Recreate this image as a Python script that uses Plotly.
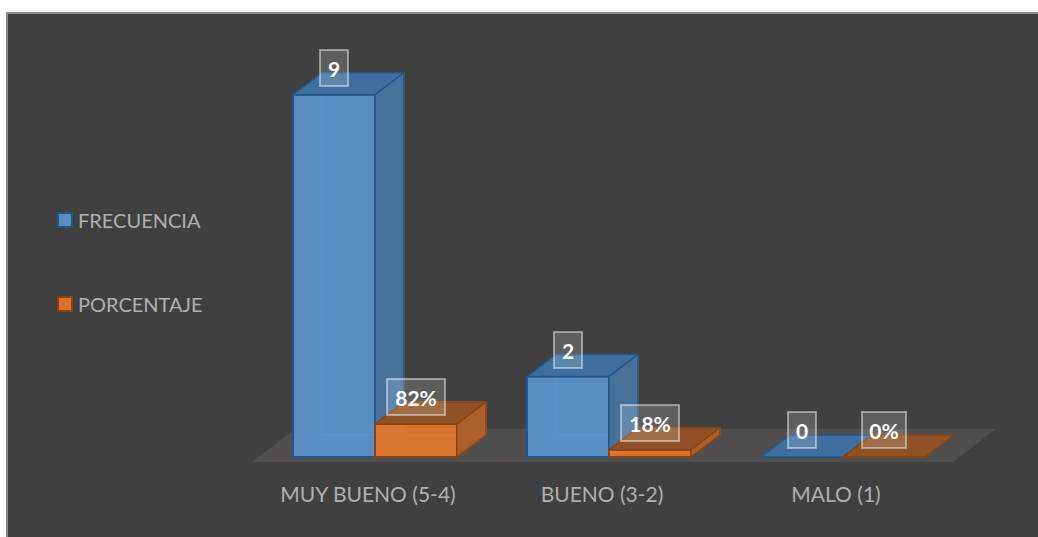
import plotly.graph_objects as go

categories = ["MUY BUENO (5-4)", "BUENO (3-2)", "MALO (1)"]
series_names = ["FRECUENCIA", "PORCENTAJE"]
frecuencia = [9, 2, 0]
porcentaje = [0.82, 0.18, 0]
frecuencia_labels = ["9", "2", "0"]
porcentaje_labels = ["82%", "18%", "0%"]

# the chart sits on a dark panel, pixel sizes of the page
W, H = 1038, 537
PANEL = (7, 13, 1045, 545)
PLOT = (200, 40, 1038, 475)   # left, top, right, bottom of the axes area
ZERO_X, STEP_X = 375, 234     # pixel of first category, distance between categories
ZERO_Y, UNIT_Y = 457, 40.25   # pixel of value 0, pixels for 1 unit

BAR = 82 / STEP_X
DX = 29 / STEP_X              # depth of the bars in axis units
DY = 22 / UNIT_Y

BLUE = dict(front="rgba(91,146,202,0.95)", side="#47729c", top="#3f6f9f", edge="#255786", inner="#5b9bd5")
ORANGE = dict(front="rgba(222,118,46,0.95)", side="#ad6029", top="#8f5226", edge="#8a4312", inner="#ed7d31")

x_range = [(PLOT[0] - ZERO_X) / STEP_X, (PLOT[2] - ZERO_X) / STEP_X]
y_range = [(ZERO_Y - PLOT[3]) / UNIT_Y, (ZERO_Y - PLOT[1]) / UNIT_Y]


def paper_x(px):
    return (px - PLOT[0]) / (PLOT[2] - PLOT[0])


def paper_y(px):
    return (PLOT[3] - px) / (PLOT[3] - PLOT[1])


def polygon(points, fill, line, width=1.5):
    return go.Scatter(x=[p[0] for p in points] + [points[0][0]],
                      y=[p[1] for p in points] + [points[0][1]],
                      mode="lines", fill="toself", fillcolor=fill,
                      line=dict(color=line, width=width),
                      showlegend=False, hoverinfo="skip")


def inner_faces(x0, v, colors):
    x1 = x0 + BAR
    return [polygon([(x0, 0), (x1, 0), (x1 + DX, DY), (x0 + DX, DY)], "rgba(0,0,0,0)", colors["inner"], 1),
            polygon([(x0 + DX, DY), (x1 + DX, DY), (x1 + DX, v + DY), (x0 + DX, v + DY)], "rgba(0,0,0,0)", colors["inner"], 1)]


def outer_faces(x0, v, colors):
    x1 = x0 + BAR
    faces = [polygon([(x0, v), (x1, v), (x1 + DX, v + DY), (x0 + DX, v + DY)], colors["top"], colors["edge"])]
    if v > 0:
        faces.append(polygon([(x1, 0), (x1 + DX, DY), (x1 + DX, v + DY), (x1, v)], colors["side"], colors["edge"]))
    return faces


fig = go.Figure()

positions = list(range(len(categories)))

# back layer: what shows through the blue front faces
for i, v in zip(positions, frecuencia):
    if v > 0:
        for face in inner_faces(i - BAR, v, BLUE):
            fig.add_trace(face)

# blue bars
fig.add_trace(go.Bar(x=positions, y=frecuencia, width=BAR, offset=-BAR, name=series_names[0],
                     marker=dict(color=BLUE["front"], line=dict(color=BLUE["edge"], width=2)),
                     xaxis="x2", yaxis="y2", showlegend=False))
for i, v in zip(positions, frecuencia):
    for face in outer_faces(i - BAR, v, BLUE):
        face.update(xaxis="x2", yaxis="y2")
        fig.add_trace(face)
for i, v in zip(positions, porcentaje):
    if v > 0:
        for face in inner_faces(i, v, ORANGE):
            face.update(xaxis="x2", yaxis="y2")
            fig.add_trace(face)

# orange bars on top of the blue ones
fig.add_trace(go.Bar(x=positions, y=porcentaje, width=BAR, offset=0, name=series_names[1],
                     marker=dict(color=ORANGE["front"], line=dict(color=ORANGE["edge"], width=2)),
                     xaxis="x3", yaxis="y3", showlegend=False))
for i, v in zip(positions, porcentaje):
    for face in outer_faces(i, v, ORANGE):
        face.update(xaxis="x3", yaxis="y3")
        fig.add_trace(face)

label_box = dict(showarrow=False, font=dict(family="Lato", size=21, color="white", weight="bold"),
                 bgcolor="rgba(255,255,255,0.16)", bordercolor="rgba(255,255,255,0.45)", borderwidth=2,
                 height=32, yshift=27, xref="x3", yref="y3")
for i in positions:
    fig.add_annotation(x=i - BAR / 2, y=frecuencia[i], text=frecuencia_labels[i], width=24, **label_box)
    fig.add_annotation(x=i + BAR / 2, y=porcentaje[i], text=porcentaje_labels[i],
                       width=54 if porcentaje[i] > 0 else 40, **label_box)

# legend on the left, the native one can't get its swatch this close to the text
legend_shapes = []
for name, row_y, colors in [(series_names[0], 220, BLUE), (series_names[1], 304, ORANGE)]:
    fig.add_annotation(x=paper_x(76), y=paper_y(row_y), xref="paper", yref="paper", xanchor="left", yanchor="middle",
                       text=name, showarrow=False, font=dict(family="Lato", size=20, color="#b0b0b0"))
    legend_shapes.append(dict(type="rect", xref="paper", yref="paper",
                              x0=paper_x(58), x1=paper_x(72), y0=paper_y(row_y + 7), y1=paper_y(row_y - 7),
                              fillcolor=colors["front"], line=dict(color=colors["edge"], width=2)))

hidden = dict(range=x_range, visible=False, fixedrange=True)
fig.update_layout(
    width=W, height=H, margin=dict(l=PLOT[0], r=W - PLOT[2], t=PLOT[1], b=H - PLOT[3]),
    paper_bgcolor="white", plot_bgcolor="rgba(0,0,0,0)",
    font=dict(family="Lato", color="#b0b0b0", size=21),
    barmode="overlay",
    showlegend=False,
    xaxis=dict(range=x_range, tickmode="array", tickvals=[p - 7 / STEP_X for p in positions],
               ticktext=categories, showgrid=False, zeroline=False, showline=False,
               ticks="outside", ticklen=1, tickcolor="rgba(0,0,0,0)", fixedrange=True),
    yaxis=dict(range=y_range, visible=False, fixedrange=True),
    xaxis2=dict(hidden, overlaying="x"),
    yaxis2=dict(range=y_range, visible=False, fixedrange=True, overlaying="y"),
    xaxis3=dict(hidden, overlaying="x"),
    yaxis3=dict(range=y_range, visible=False, fixedrange=True, overlaying="y"),
    shapes=[
        # dark panel, below everything
        dict(type="rect", xref="paper", yref="paper", layer="below",
             x0=paper_x(PANEL[0]), x1=paper_x(PANEL[2]), y0=paper_y(PANEL[3]), y1=paper_y(PANEL[1]),
             fillcolor="#404040", line=dict(color="#8a8a8a", width=2)),
        # floor of the 3d box
        dict(type="path", xref="x", yref="y", layer="below",
             path=f"M {-123 / STEP_X} {-5 / UNIT_Y} L {578 / STEP_X} {-5 / UNIT_Y} "
                  f"L {621 / STEP_X} {28 / UNIT_Y} L {-80 / STEP_X} {28 / UNIT_Y} Z",
             fillcolor="#504e4e", line=dict(width=0)),
    ] + legend_shapes,
)

fig.write_html("out.html", config={"displayModeBar": False},
               post_script="document.body.style.margin='0';document.body.style.overflow='hidden';")
